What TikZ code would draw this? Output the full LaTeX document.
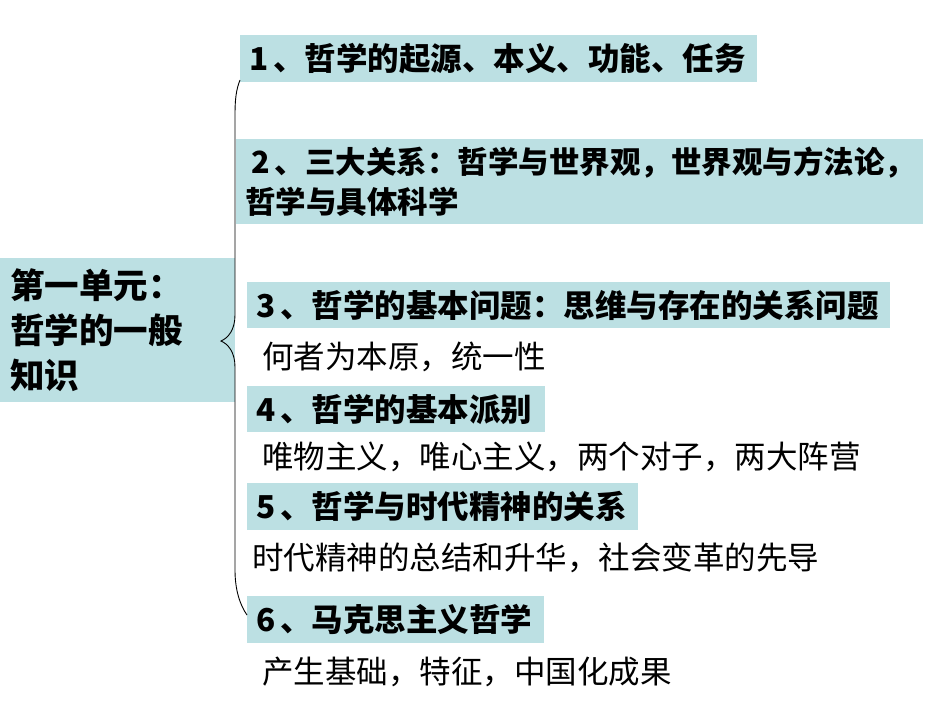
\documentclass[tikz,border=0pt]{standalone}
\usepackage{fontspec}
\setmainfont{Noto Sans CJK SC}
\definecolor{boxblue}{RGB}{188,224,227}
\tikzset{
  topic/.style={fill=boxblue, anchor=west, inner xsep=9pt, inner ysep=0pt, align=left, font=\bfseries\fontsize{31.5}{40}\selectfont},
  note/.style={anchor=west, inner sep=0pt, font=\fontsize{31.5}{40}\selectfont}
}
\begin{document}
\begin{tikzpicture}[x=1pt,y=1pt,yscale=-1,xscale=1]
\useasboundingbox (0,0) rectangle (950,713);

%Shape: Left box
\node [fill=boxblue, anchor=west, minimum width=235, minimum height=144, inner xsep=10pt, text width=215, align=left, font=\bfseries\fontsize{34.5}{45}\selectfont] (unit) at (0,330) {第一单元：\\哲学的一般\\知识};

% Text Node
\node [topic, text width=499, minimum height=47] (t1) at (240,58.5) {1\hspace{5pt}、哲学的起源、本义、功能、任务};
% Text Node
\node [topic, text width=669, minimum height=85, inner xsep=9pt, font=\bfseries\fontsize{30.5}{40}\selectfont] (t2) at (236,181.5) {\mbox{\hspace{6pt}2\hspace{5pt}、三大关系：哲学与世界观，世界观与方法论，}\\\mbox{哲学与具体科学}};
% Text Node
\node [topic, text width=625, minimum height=46] (t3) at (247,305) {3\hspace{5pt}、哲学的基本问题：思维与存在的关系问题};
\node [note] (n3) at (262,357) {何者为本原，统一性};
% Text Node
\node [topic, text width=280, minimum height=46] (t4) at (247,409) {4\hspace{5pt}、哲学的基本派别};
\node [note] (n4) at (262,457) {唯物主义，唯心主义，两个对子，两大阵营};
% Text Node
\node [topic, text width=373, minimum height=47] (t5) at (247,506.5) {5\hspace{5pt}、哲学与时代精神的关系};
\node [note] (n5) at (252,558) {时代精神的总结和升华，社会变革的先导};
% Text Node
\node [topic, text width=279, minimum height=47] (t6) at (247,619.5) {6\hspace{5pt}、马克思主义哲学};
\node [note] (n6) at (262,672) {产生基础，特征，中国化成果};

%Curve Lines: brace
\coordinate (btop) at (240,80);
\coordinate (btip) at (221,341);
\coordinate (bbot) at (247,615);
\draw [line width=0.9] (btop) .. controls (236,90) and (235,100) .. (235,115) -- (235,315) .. controls (235,330) and (228,338) .. (btip) .. controls (228,344) and (235,352) .. (235,367) -- (235,570) .. controls (235,590) and (240,605) .. (bbot);

\end{tikzpicture}
\end{document}
